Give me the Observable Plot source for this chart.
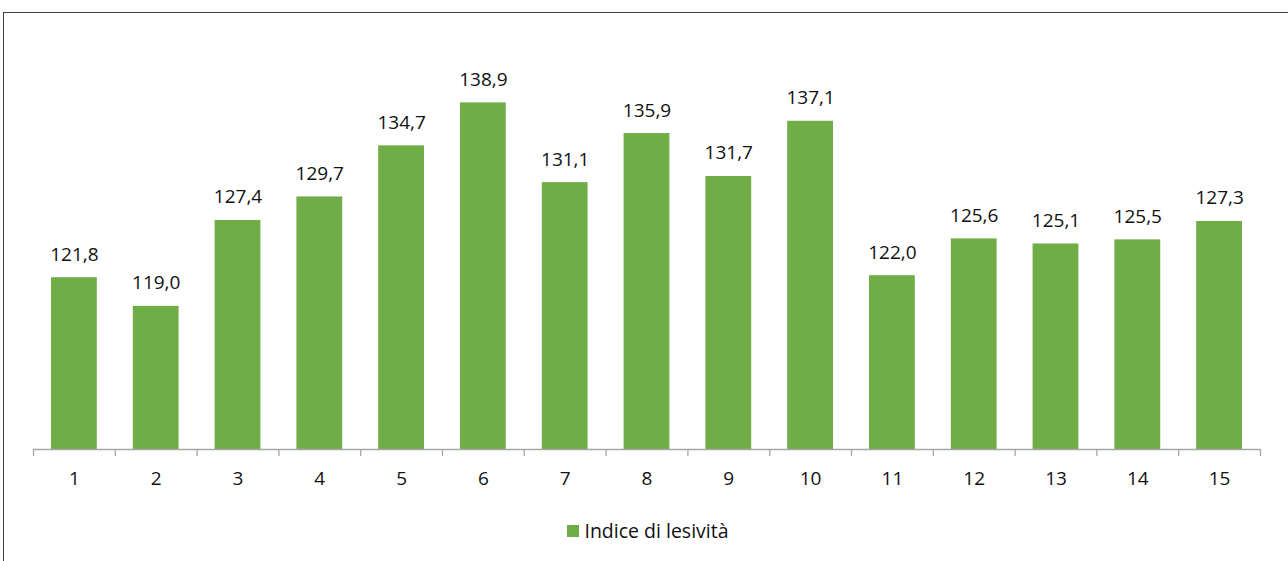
<!DOCTYPE html>
<html>
<head>
<meta charset="utf-8">
<script src="https://cdn.jsdelivr.net/npm/d3@7"></script>
<script src="https://cdn.jsdelivr.net/npm/@observablehq/plot@0.6"></script>
<style>
  html, body { margin: 0; padding: 0; background: #fff; overflow: hidden; width: 1288px; height: 561px; }
  #frame { position: absolute; left: 3px; top: 12px; width: 1300px; height: 600px; border: 1.5px solid #404040; box-sizing: border-box; }
  #chart { position: absolute; left: 0; top: 0; }
  #legend { position: absolute; left: 0; top: 504px; width: 1288px; display: flex; justify-content: center; align-items: center; font-family: "Open Sans", sans-serif; font-size: 19.5px; color: #111; }
  #legend .sw { width: 12px; height: 12px; background: #70ad47; margin-right: 5px; }
</style>
</head>
<body>
<div id="frame">
  <div id="chart"></div>
  <div id="legend"><span class="sw"></span><span>Indice di lesività</span></div>
</div>
<script>
const categories = ["1","2","3","4","5","6","7","8","9","10","11","12","13","14","15"];
const values = [121.8, 119.0, 127.4, 129.7, 134.7, 138.9, 131.1, 135.9, 131.7, 137.1, 122.0, 125.6, 125.1, 125.5, 127.3];
const yDomain = [105, 145];
const seriesName = "Indice di lesività";

const data = categories.map((c, i) => ({ cat: c, value: values[i] }));
const fmt = v => v.toFixed(1).replace(".", ",");

const W = 1284, H = 477, mL = 29, mR = 28;
const step = (W - mL - mR) / categories.length;

const chart = Plot.plot({
  width: W,
  height: H,
  marginLeft: mL,
  marginRight: mR,
  marginTop: 27,
  marginBottom: 41,
  style: { fontFamily: "Open Sans, sans-serif", fontSize: "19px", color: "#111", background: "transparent", overflow: "visible" },
  x: { domain: categories, paddingInner: 0.44, paddingOuter: 0.22, round: false, label: null },
  y: { domain: yDomain, axis: null },
  marks: [
    Plot.barY(data, { x: "cat", y1: () => yDomain[0], y2: "value", fill: "#70ad47" }),
    Plot.text(data, { x: "cat", y: "value", text: d => fmt(d.value), lineAnchor: "bottom", dy: -17, fontSize: 19, fill: "#111" }),
    Plot.ruleY([yDomain[0]], { stroke: "#a6a6a6", strokeWidth: 1.3 }),
    Plot.axisX({ text: null, tickSize: 7, dx: -step / 2, stroke: "#a6a6a6", strokeWidth: 1.3 }),
    Plot.axisX({ ticks: [categories[categories.length - 1]], text: null, tickSize: 7, dx: step / 2, stroke: "#a6a6a6", strokeWidth: 1.3 }),
    Plot.axisX({ tickSize: 0, tickPadding: 22, fontSize: 19, fill: "#111" })
  ]
});
document.getElementById("chart").appendChild(chart);
</script>
</body>
</html>
